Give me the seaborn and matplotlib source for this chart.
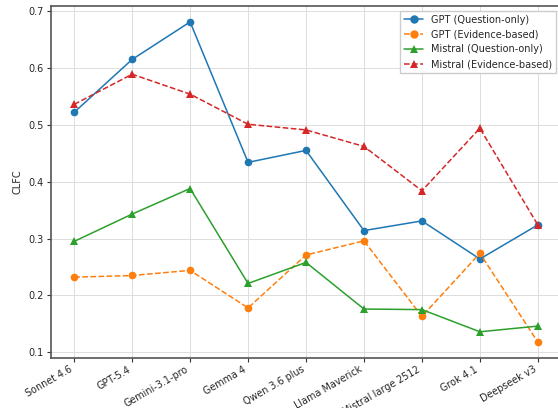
import pandas as pd
import seaborn as sns
import matplotlib.pyplot as plt

# model names on the x axis
models = ['Sonnet 4.6', 'GPT-5.4', 'Gemini-3.1-pro', 'Gemma 4', 'Qwen 3.6 plus',
          'Llama Maverick', 'Mistral large 2512', 'Grok 4.1', 'Deepseek v3']

# CLFC values
gpt_qo = [0.522, 0.615, 0.681, 0.434, 0.455, 0.314, 0.331, 0.264, 0.324]
gpt_eb = [0.232, 0.235, 0.244, 0.178, 0.271, 0.296, 0.163, 0.274, 0.118]
mistral_qo = [0.295, 0.343, 0.388, 0.221, 0.258, 0.176, 0.175, 0.136, 0.146]
mistral_eb = [0.536, 0.589, 0.554, 0.501, 0.491, 0.462, 0.384, 0.494, 0.324]

series = [
    ('GPT (Question-only)', gpt_qo, '#1f77b4', 'o', '-'),
    ('GPT (Evidence-based)', gpt_eb, '#ff7f0e', 'o', '--'),
    ('Mistral (Question-only)', mistral_qo, '#2ca02c', '^', '-'),
    ('Mistral (Evidence-based)', mistral_eb, '#d62728', '^', '--'),
]

sns.set_style('ticks')
plt.rcParams['font.family'] = ['DejaVu Sans']

fig = plt.figure(figsize=(5.58, 4.08), dpi=100)
ax = fig.add_axes([0.0914, 0.1225, 0.914, 0.863])

for name, vals, color, marker, ls in series:
    df = pd.DataFrame({'model': models, 'CLFC': vals})
    sns.lineplot(data=df, x='model', y='CLFC', ax=ax, color=color, marker=marker,
                 linestyle=ls, linewidth=1.1, markersize=5.5, markeredgewidth=0,
                 label=name, sort=False)

ax.grid(True, color='#dddddd', linewidth=0.7)
ax.set_axisbelow(True)
for s in ax.spines.values():
    s.set_color('#555555')
    s.set_linewidth(1.2)

ax.set_xlabel('')
ax.set_ylabel('CLFC', fontsize=7)
ax.tick_params(axis='y', labelsize=7, length=3, pad=2.5, color='#333333')
ax.tick_params(axis='x', labelsize=6.9, length=3, pad=1.5, color='#333333')
plt.setp(ax.get_xticklabels(), rotation=30, ha='right')

ax.legend(loc='upper right', fontsize=7, frameon=True, fancybox=False,
          edgecolor='#cccccc', framealpha=1, handlelength=2.0, markerscale=1.1)

fig.savefig('out.png', dpi=100)
